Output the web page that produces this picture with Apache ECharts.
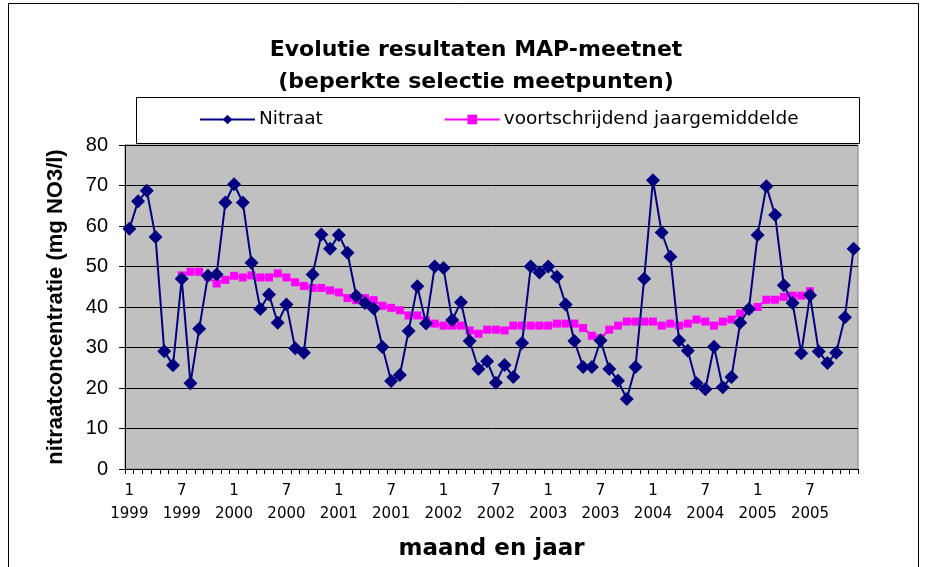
<!DOCTYPE html>
<html>
<head>
<meta charset="utf-8">
<title>Evolutie resultaten MAP-meetnet</title>
<script src="https://cdn.jsdelivr.net/npm/echarts@6/dist/echarts.min.js"></script>
<style>
    html, body { margin: 0; padding: 0; background: #fff; }
    #chart { width: 926px; height: 567px; }
</style>
</head>
<body>
<div id="chart"></div>
<script>
'use strict';

// jaren en maanden (maandelijkse metingen 1999 - 2005)
var jaren = ['1999', '2000', '2001', '2002', '2003', '2004', '2005'];
var maanden = [1, 2, 3, 4, 5, 6, 7, 8, 9, 10, 11, 12];

// nitraat (mg NO3/l) per maand
var nitraat = [
    59.3, 66.1, 68.7, 57.3, 29.1, 25.6, 47.0, 21.2, 34.6, 47.7, 48.0, 65.8,
    70.3, 65.8, 50.9, 39.5, 43.1, 36.1, 40.6, 29.8, 28.7, 48.0, 57.9, 54.4,
    57.8, 53.4, 42.7, 41.0, 39.6, 30.1, 21.7, 23.2, 34.1, 45.1, 35.9, 50.0,
    49.6, 36.8, 41.2, 31.6, 24.7, 26.6, 21.3, 25.7, 22.7, 31.1, 50.0, 48.5,
    50.0, 47.5, 40.6, 31.6, 25.2, 25.2, 31.7, 24.7, 21.8, 17.3, 25.2, 47.0,
    71.3, 58.4, 52.4, 31.7, 29.2, 21.2, 19.7, 30.2, 20.2, 22.7, 36.1, 39.5,
    57.8, 69.8, 62.7, 45.4, 41.0, 28.6, 42.9, 29.0, 26.2, 28.7, 37.5, 54.4
];

// voortschrijdend jaargemiddelde (1999-7 t/m 2005-7)
var jaargemiddelde = [
    null, null, null, null, null, null,
    47.8, 48.7, 48.7, 47.4, 45.8, 46.7,
    47.7, 47.3, 47.8, 47.3, 47.3, 48.3, 47.3, 46.1, 45.2, 44.7, 44.7, 44.1,
    43.6, 42.2, 41.7, 42.2, 41.7, 40.3, 39.8, 39.2, 37.9, 37.9, 36.7, 35.9,
    35.4, 35.4, 35.4, 34.2, 33.4, 34.4, 34.4, 34.2, 35.4, 35.4, 35.4, 35.4,
    35.4, 35.9, 35.9, 35.9, 34.8, 32.9, 32.3, 34.4, 35.4, 36.4, 36.4, 36.4,
    36.4, 35.4, 35.9, 35.4, 35.9, 36.9, 36.4, 35.4, 36.4, 36.9, 38.4, 39.4,
    40.0, 41.8, 41.8, 42.5, 42.8, 42.8, 43.9,
    null, null, null, null, null
];

var categorieen = [];
jaren.forEach(function(j) {
    maanden.forEach(function(m) {
        categorieen.push(m + '\n' + j);
    });
});

var arial = '"Liberation Sans", Arial, sans-serif';
var breed = '"DejaVu Sans", sans-serif';   // bredere letter, zoals in het origineel
var chart = echarts.init(document.getElementById('chart'));

var option = {
    backgroundColor: '#fff',
    animation: false,
    title: {
        text: 'Evolutie resultaten MAP-meetnet\n(beperkte selectie meetpunten)',
        left: 471,
        top: 29,
        textAlign: 'center',
        textStyle: {
            fontFamily: breed,
            fontSize: 22,
            fontWeight: 'bold',
            color: '#000',
            lineHeight: 32
        }
    },
    legend: {
        left: 194,
        top: 105,
        itemWidth: 55,
        itemHeight: 12,
        itemGap: 121,
        textStyle: { fontFamily: breed, fontSize: 18.5, color: '#000', padding: [0, 0, 0, -1] },
        data: ['Nitraat', 'voortschrijdend jaargemiddelde']
    },
    graphic: [
        //rand van de grafiek
        {
            type: 'rect', z: -1,
            shape: { x: 8.5, y: 3.5, width: 910, height: 600 },
            style: { fill: 'none', stroke: '#000', lineWidth: 1 }
        },
        //kader rond de legende
        {
            type: 'rect', z: -1,
            shape: { x: 136.5, y: 97.5, width: 723, height: 46 },
            style: { fill: 'none', stroke: '#000', lineWidth: 1 }
        }
    ],
    grid: {
        left: 125,
        right: 68,
        top: 145,
        bottom: 98,
        show: true,
        backgroundColor: '#C0C0C0',
        borderColor: '#808080',
        borderWidth: 1
    },
    xAxis: {
        type: 'category',
        data: categorieen,
        boundaryGap: true,
        name: 'maand en jaar',
        nameLocation: 'middle',
        nameGap: 69,
        nameTextStyle: { fontFamily: breed, fontSize: 23, fontWeight: 'bold', color: '#000' },
        axisLine: { lineStyle: { color: '#000', width: 1 } },
        axisTick: { show: true, interval: 0, length: 5, lineStyle: { color: '#000' } },
        axisLabel: {
            interval: function(index) { return index % 6 === 0; },
            fontFamily: breed,
            fontSize: 15,
            color: '#000',
            lineHeight: 23,
            margin: 11
        },
        splitLine: { show: false }
    },
    yAxis: {
        type: 'value',
        min: 0,
        max: 80,
        interval: 10,
        name: 'nitraatconcentratie (mg NO3/l)',
        nameLocation: 'middle',
        nameGap: 58,
        nameTextStyle: { fontFamily: arial, fontSize: 22, fontWeight: 'bold', color: '#000' },
        axisLine: { show: true, lineStyle: { color: '#000', width: 1 } },
        axisTick: { show: true, length: 6, lineStyle: { color: '#000' } },
        axisLabel: { fontFamily: arial, fontSize: 20, color: '#000', margin: 17 },
        splitLine: { show: true, lineStyle: { color: '#000', width: 1 } }
    },
    series: [
        {
            name: 'Nitraat',
            type: 'line',
            data: nitraat,
            symbol: 'diamond',
            symbolSize: 14,
            showAllSymbol: true,
            itemStyle: { color: '#000080' },
            lineStyle: { color: '#000080', width: 2 },
            z: 3
        },
        {
            name: 'voortschrijdend jaargemiddelde',
            type: 'line',
            data: jaargemiddelde,
            symbol: 'rect',
            symbolSize: 8,
            showAllSymbol: true,
            itemStyle: { color: '#FF00FF' },
            lineStyle: { color: '#FF00FF', width: 2 },
            z: 2
        }
    ]
};

chart.setOption(option);
</script>
</body>
</html>
